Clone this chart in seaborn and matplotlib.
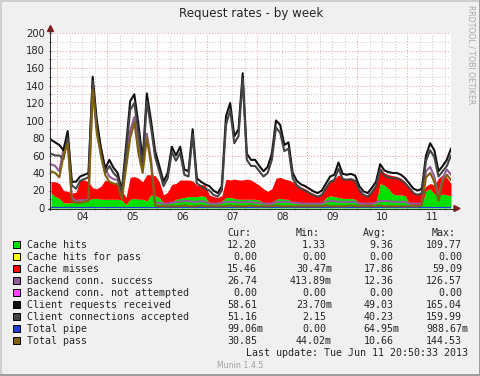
import numpy as np
import pandas as pd
import seaborn as sns
import matplotlib.pyplot as plt
from matplotlib.patches import Rectangle, Polygon

W, H = 481, 376

# time axis: hours since Jun 04 00:00, one sample every 2 hours
hours = list(range(-3, 190, 2))

hits = [17, 13, 11, 6, 6, 6, 7, 8, 8, 9,
        11, 11, 10, 10, 10, 10, 10, 9, 4, 10,
        11, 10, 10, 8, 15, 14, 12, 6, 6, 7,
        10, 11, 12, 13, 13, 13, 14, 13, 6, 5,
        6, 8, 12, 12, 11, 10, 10, 10, 10, 10,
        9, 6, 4, 5, 10, 11, 10, 10, 6, 5,
        5, 5, 5, 5, 5, 6, 12, 14, 13, 12,
        11, 11, 11, 10, 5, 4, 4, 4, 6, 28,
        26, 22, 16, 15, 15, 14, 5, 4, 4, 4,
        20, 22, 16, 14, 16, 15, 14]

misses = [13, 17, 17, 14, 13, 11, 11, 24, 24, 21,
          12, 11, 15, 22, 20, 18, 17, 11, 8, 25,
          25, 24, 20, 30, 23, 23, 18, 9, 12, 20,
          18, 21, 20, 19, 18, 13, 13, 13, 9, 8,
          6, 6, 21, 20, 22, 22, 22, 23, 22, 19,
          17, 16, 15, 17, 24, 24, 23, 22, 24, 22,
          19, 17, 14, 11, 9, 10, 12, 18, 20, 26,
          23, 23, 23, 22, 17, 12, 10, 14, 20, 18,
          14, 16, 21, 21, 19, 16, 18, 14, 12, 13,
          5, 6, 10, 20, 22, 20, 14]

backend = [50, 48, 42, 68, 80, 12, 8, 9, 9, 10,
           138, 92, 68, 45, 36, 33, 32, 14, 52, 88,
           104, 70, 46, 85, 56, 6, 6, 5, 5, 6,
           7, 7, 8, 8, 7, 7, 8, 7, 5, 5,
           5, 6, 7, 7, 7, 6, 7, 7, 7, 6,
           6, 5, 5, 5, 7, 7, 7, 7, 6, 6,
           5, 5, 5, 5, 5, 5, 7, 8, 8, 7,
           7, 7, 7, 7, 5, 5, 5, 5, 6, 8,
           8, 8, 7, 7, 7, 7, 5, 5, 5, 5,
           42, 47, 36, 12, 34, 44, 38]

requests = [78, 75, 72, 66, 88, 30, 30, 36, 38, 40,
            150, 100, 68, 45, 55, 46, 40, 20, 70, 122,
            130, 95, 55, 131, 100, 65, 48, 30, 40, 70,
            60, 70, 44, 42, 90, 34, 30, 27, 25, 20,
            17, 25, 105, 120, 82, 90, 154, 62, 55, 55,
            48, 42, 47, 62, 100, 95, 72, 75, 40, 31,
            27, 25, 22, 19, 17, 20, 28, 36, 38, 52,
            39, 38, 39, 37, 25, 19, 17, 23, 30, 50,
            43, 41, 40, 40, 38, 34, 28, 22, 20, 22,
            60, 74, 66, 42, 48, 55, 68]

connections = [62, 60, 60, 56, 80, 26, 22, 31, 33, 35,
               145, 92, 60, 40, 48, 40, 35, 17, 62, 112,
               120, 85, 48, 122, 92, 58, 42, 25, 34, 64,
               54, 63, 38, 36, 84, 28, 25, 22, 20, 15,
               13, 20, 95, 112, 74, 82, 148, 55, 48, 48,
               42, 36, 40, 55, 92, 86, 65, 68, 34, 26,
               22, 20, 17, 15, 13, 15, 23, 30, 32, 45,
               33, 32, 33, 31, 20, 15, 13, 18, 25, 44,
               37, 35, 34, 34, 32, 28, 23, 17, 15, 17,
               54, 66, 58, 36, 42, 48, 60]

pipe = [0.0, 0.1, 0.0, 0.0, 0.1, 0.0, 0.0, 0.0, 0.1, 0.0,
        0.1, 0.0, 0.0, 0.0, 0.1, 0.0, 0.0, 0.1, 0.0, 0.0,
        0.1, 0.0, 0.0, 0.1, 0.0, 0.0, 0.0, 0.0, 0.0, 0.0,
        0.0, 0.1, 0.0, 0.0, 0.0, 0.0, 0.1, 0.0, 0.0, 0.0,
        0.0, 0.0, 0.1, 0.0, 0.0, 0.1, 0.0, 0.0, 0.0, 0.0,
        0.0, 0.0, 0.0, 0.1, 0.0, 0.0, 0.1, 0.0, 0.0, 0.0,
        0.0, 0.0, 0.0, 0.0, 0.0, 0.0, 0.1, 0.0, 0.0, 0.1,
        0.0, 0.0, 0.0, 0.0, 0.0, 0.0, 0.0, 0.0, 0.0, 0.1,
        0.1, 0.0, 0.0, 0.1, 0.0, 0.0, 0.0, 0.0, 0.0, 0.0,
        0.1, 0.1, 0.0, 0.0, 0.1, 0.0, 0.1]

passes = [42, 40, 35, 60, 74, 8, 6, 6, 7, 8,
          135, 85, 60, 38, 30, 28, 27, 10, 45, 80,
          98, 62, 40, 80, 50, 3, 2, 2, 2, 2,
          2, 2, 3, 2, 2, 2, 3, 2, 2, 2,
          2, 2, 2, 3, 2, 2, 2, 2, 3, 2,
          2, 2, 2, 2, 3, 2, 2, 2, 2, 2,
          2, 2, 2, 2, 2, 2, 3, 2, 2, 2,
          2, 2, 3, 2, 2, 2, 2, 2, 2, 3,
          2, 2, 2, 2, 2, 2, 2, 2, 2, 3,
          35, 40, 30, 8, 30, 38, 32]

day_labels = ["04", "05", "06", "07", "08", "09", "10", "11"]

legend_names = ["Cache hits", "Cache hits for pass", "Cache misses",
                "Backend conn. success", "Backend conn. not attempted",
                "Client requests received", "Client connections accepted",
                "Total pipe", "Total pass"]
legend_colors = ["#00E000", "#FFFF00", "#FF0000", "#925C96", "#FF40FF",
                 "#111111", "#444444", "#1F3FE0", "#7F6010"]
cur = ["12.20", "0.00", "15.46", "26.74", "0.00", "58.61", "51.16", "99.06m", "30.85"]
mins = ["1.33", "0.00", "30.47m", "413.89m", "0.00", "23.70m", "2.15", "0.00", "44.02m"]
avgs = ["9.36", "0.00", "17.86", "12.36", "0.00", "49.03", "40.23", "64.95m", "10.66"]
maxs = ["109.77", "0.00", "59.09", "126.57", "0.00", "165.04", "159.99", "988.67m", "144.53"]

sns.set_theme(style="white")
plt.rcParams["font.family"] = ["DejaVu Sans"]

fig = plt.figure(figsize=(W / 100, H / 100), dpi=100)
fig.patch.set_facecolor("#F0F0F0")

# plot area in pixels
px0, px1, py0, py1 = 51, 451, 33, 208
ax = fig.add_axes([px0 / W, 1 - py1 / H, (px1 - px0) / W, (py1 - py0) / H])
ax.set_facecolor("white")

# stacked areas
top = np.add(hits, misses)
ax.fill_between(hours, 0, hits, color=legend_colors[0], lw=0, zorder=2)
ax.fill_between(hours, hits, top, color=legend_colors[2], lw=0, zorder=2)

# lines, in munin draw order
lines = pd.DataFrame({
    "hour": hours,
    "Backend conn. success": backend,
    "Client requests received": requests,
    "Client connections accepted": connections,
    "Total pipe": pipe,
    "Total pass": passes,
})
long = lines.melt("hour", var_name="series", value_name="rate")
order = ["Backend conn. success", "Client requests received",
         "Client connections accepted", "Total pipe", "Total pass"]
palette = {n: c for n, c in zip(legend_names, legend_colors)}
sns.lineplot(data=long, x="hour", y="rate", hue="series", hue_order=order,
             palette=palette, lw=1.5, legend=False, estimator=None,
             sort=False, ax=ax, zorder=3)

ax.set_xlim(-3, 189)
ax.set_ylim(0, 200)
ax.set_xlabel("")
ax.set_ylabel("")
for s in ax.spines.values():
    s.set_visible(False)

ax.set_yticks(range(0, 201, 20))
ax.set_yticks(range(10, 200, 20), minor=True)
ax.set_xticks(range(0, 169, 24))
ax.set_xticks([h for h in range(6, 189, 6) if h % 24], minor=True)
ax.set_xticklabels([])
ax.set_yticklabels([str(v) for v in range(0, 201, 20)], fontsize=7.2)
ax.grid(which="major", color="#E89A9A", ls=(0, (1, 2)), lw=0.7)
ax.grid(which="minor", color="#C4C4C4", ls=(0, (1, 2)), lw=0.7)
ax.set_axisbelow(True)
ax.tick_params(axis="y", which="both", length=1.5, width=0.7, color="#404040",
               pad=3, left=True)
ax.tick_params(axis="x", which="major", length=1.5, width=0.7, color="#D06060",
               bottom=True)
ax.tick_params(axis="x", which="minor", length=1.5, width=0.7, color="#A0A0A0",
               bottom=True)

for d, lab in enumerate(day_labels):
    ax.text(12 + 24 * d, -9 / (py1 - py0), lab, transform=ax.get_xaxis_transform(),
            ha="center", va="center", fontsize=7.2)

# overlay in pixel coordinates for frame, axes arrows and legend
ov = fig.add_axes([0, 0, 1, 1], zorder=5)
ov.set_xlim(0, W)
ov.set_ylim(H, 0)
ov.axis("off")
ov.patch.set_visible(False)

ov.plot([0, W], [1, 1], color="#CFCFCF", lw=1.44)
ov.plot([1, 1], [0, H], color="#CFCFCF", lw=1.44)
ov.plot([0, W], [H - 1, H - 1], color="#9E9E9E", lw=1.44)
ov.plot([W - 1, W - 1], [0, H], color="#9E9E9E", lw=1.44)

ov.plot([50.5, 50.5], [210, 30], color="#303030", lw=0.75)
ov.plot([48, 455], [208.5, 208.5], color="#303030", lw=0.75)
ov.add_patch(Polygon([[50.5, 25.5], [47.5, 31.5], [53.5, 31.5]], color="#7F1F1F"))
ov.add_patch(Polygon([[460, 208.5], [454, 205.5], [454, 211.5]], color="#7F1F1F"))

ov.text(251.5, 13.5, "Request rates - by week", ha="center", va="center",
        fontsize=8.6)
ov.text(471, 5, "RRDTOOL / TOBI OETIKER", rotation=270, ha="center", va="top",
        fontsize=5.6, color="#A8A8A8")

mono = "DejaVu Sans Mono"
for x, t in zip([227, 296, 363, 432], ["Cur:", "Min:", "Avg:", "Max:"]):
    ov.text(x, 233, t, ha="left", va="center", fontsize=7.2, family=mono)

cw = 6.02
for i, name in enumerate(legend_names):
    y = 244.5 + 12 * i
    ov.add_patch(Rectangle((13.5, y - 3.5), 7, 7, facecolor=legend_colors[i],
                           edgecolor="black", lw=0.7))
    ov.text(27, y, name, ha="left", va="center", fontsize=7.2, family=mono)
    for r, col in zip([263, 332, 399.5, 468], [cur, mins, avgs, maxs]):
        s = col[i]
        xr = r if s.endswith("m") else r - cw
        ov.text(xr, y, s, ha="right", va="center", fontsize=7.2, family=mono)

ov.text(245.7, 352.5, "Last update: Tue Jun 11 20:50:33 2013", ha="left",
        va="center", fontsize=7.2, family=mono)
ov.text(240, 365, "Munin 1.4.5", ha="center", va="center", fontsize=5.6,
        color="#A0A0A0")

fig.savefig("out.png", dpi=100, facecolor=fig.get_facecolor())
